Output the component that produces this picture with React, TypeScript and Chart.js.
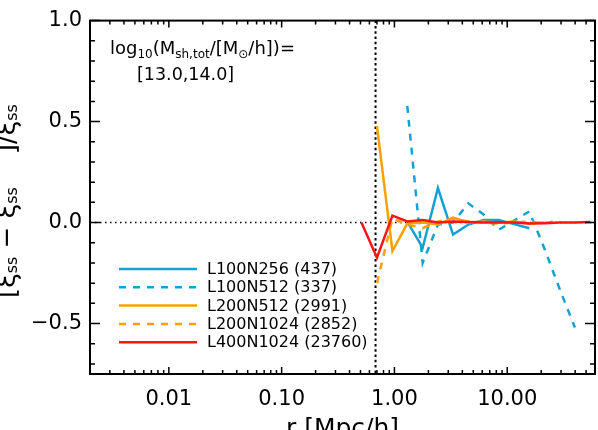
import React, { useEffect, useRef } from "react";
import { Chart, registerables } from "chart.js";

Chart.register(...registerables);

// ---- data ----
const R_BINS = [0.51, 0.70, 0.96, 1.30, 1.78, 2.43, 3.31, 4.52, 6.17, 8.41, 11.5, 15.7, 21.4, 29.2, 39.8, 54.3];
const L100N256 = [null, null, null, 0.005, -0.125, 0.171, -0.060, -0.010, 0.012, 0.012, -0.008, -0.028, null, null, null, null];
const L100N512 = [null, null, null, 0.578, -0.200, -0.010, 0.000, 0.095, 0.040, -0.036, 0.010, 0.055, -0.130, -0.330, -0.520, null];
const L200N512 = [null, 0.477, -0.141, -0.005, 0.000, -0.010, 0.025, 0.000, 0.005, 0.000, 0.005, -0.005, 0.000, null, null, null];
const L200N1024 = [null, -0.300, 0.020, -0.010, -0.028, 0.005, 0.020, 0.005, 0.000, -0.005, 0.000, 0.005, -0.005, 0.015, null, null];
const L400N1024 = [0.000, -0.174, 0.034, 0.005, 0.013, 0.000, 0.005, 0.003, 0.000, 0.002, 0.000, -0.005, -0.003, 0.000, 0.000, 0.003];

const SERIES_NAMES = ["L100N256", "L100N512", "L200N512", "L200N1024", "L400N1024"];
const SERIES_COUNTS = [437, 337, 2991, 2852, 23760];
const SERIES_VALUES = [L100N256, L100N512, L200N512, L200N1024, L400N1024];
const SERIES_COLORS = ["#14a2d4", "#14a2d4", "#ffa000", "#ffa000", "#ff1414"];
const SERIES_DASHED = [false, true, false, true, false];
const SERIES_ORDER = [4, 3, 2, 1, 0];

const X_MIN = 0.002;
const X_MAX = 60;
const Y_MIN = -0.75;
const Y_MAX = 1.0;
const X_MAJOR = [0.01, 0.1, 1, 10];
const Y_MAJOR = [-0.5, 0.0, 0.5, 1.0];
const R_LIMIT = 0.68;

const FONT = "'DejaVu Sans', sans-serif";

type Run = { t: string; size: number; dy?: number };

function drawRuns(ctx: CanvasRenderingContext2D, x: number, y: number, runs: Run[]) {
  let cx = x;
  for (const r of runs) {
    ctx.font = `${r.size}px ${FONT}`;
    ctx.fillText(r.t, cx, y + (r.dy || 0));
    cx += ctx.measureText(r.t).width;
  }
  return cx - x;
}

const overlay = {
  id: "overlay",
  beforeDatasetsDraw(chart: any) {
    const { ctx, chartArea: a, scales } = chart;
    const xs = scales.x, ys = scales.y;
    ctx.save();
    ctx.strokeStyle = "#000";
    ctx.lineWidth = 1.5;
    ctx.setLineDash([1.5, 3.5]);
    const y0 = ys.getPixelForValue(0);
    ctx.beginPath();
    ctx.moveTo(a.left, y0);
    ctx.lineTo(a.right, y0);
    ctx.stroke();
    ctx.lineWidth = 2;
    ctx.setLineDash([2.5, 2.8]);
    const xl = xs.getPixelForValue(R_LIMIT);
    ctx.beginPath();
    ctx.moveTo(xl, a.top);
    ctx.lineTo(xl, a.bottom);
    ctx.stroke();
    ctx.restore();
  },
  afterDraw(chart: any) {
    const { ctx, chartArea: a, scales } = chart;
    const xs = scales.x, ys = scales.y;
    ctx.save();
    ctx.strokeStyle = "#000";
    ctx.setLineDash([]);
    ctx.lineWidth = 1.5;
    ctx.beginPath();
    for (let d = -3; d <= 2; d++) {
      for (let m = 1; m <= 9; m++) {
        const v = m * Math.pow(10, d);
        if (v < X_MIN || v > X_MAX) continue;
        const px = xs.getPixelForValue(v);
        const len = m === 1 ? 7 : 4;
        ctx.moveTo(px, a.bottom);
        ctx.lineTo(px, a.bottom - len);
        ctx.moveTo(px, a.top);
        ctx.lineTo(px, a.top + len);
      }
    }
    for (let k = -7; k <= 10; k++) {
      const v = k / 10;
      const py = ys.getPixelForValue(v);
      const len = k % 5 === 0 ? 10 : 5;
      ctx.moveTo(a.left, py);
      ctx.lineTo(a.left + len, py);
      ctx.moveTo(a.right, py);
      ctx.lineTo(a.right - len, py);
    }
    ctx.stroke();
    ctx.lineWidth = 2;
    ctx.strokeRect(a.left, a.top, a.right - a.left, a.bottom - a.top);

    // legend
    ctx.fillStyle = "#000";
    ctx.textBaseline = "middle";
    chart.data.datasets.forEach((ds: any, i: number) => {
      if (i >= SERIES_NAMES.length) return;
      const yy = 269 + i * 18.3;
      ctx.strokeStyle = ds.borderColor;
      ctx.lineWidth = 2.5;
      ctx.setLineDash(ds.borderDash || []);
      ctx.beginPath();
      ctx.moveTo(119, yy);
      ctx.lineTo(197, yy);
      ctx.stroke();
      ctx.font = `16px ${FONT}`;
      ctx.fillText(ds.label, 207, yy + 1);
    });
    ctx.setLineDash([]);

    // annotation
    ctx.textBaseline = "alphabetic";
    ctx.fillStyle = "#000";
    const S = 18, s = 12, dy = 4;
    drawRuns(ctx, 110, 54, [
      { t: "log", size: S },
      { t: "10", size: s, dy },
      { t: "(M", size: S },
      { t: "sh,tot", size: s, dy },
      { t: "/[M", size: S },
      { t: "\u2299", size: s, dy },
      { t: "/h])=", size: S },
    ]);
    drawRuns(ctx, 137, 80, [{ t: "[13.0,14.0]", size: 17.5 }]);

    // x title
    ctx.font = `25px ${FONT}`;
    const xt = "r [Mpc/h]";
    const w = ctx.measureText(xt).width;
    ctx.fillText(xt, (a.left + a.right) / 2 - w / 2, 436);

    // y title (rotated)
    ctx.save();
    ctx.translate(15, 298);
    ctx.rotate(-Math.PI / 2);
    drawRuns(ctx, 0, 0, [
      { t: "[\u03be", size: 26 },
      { t: "ss", size: 16, dy: 2 },
      { t: " \u2212 \u03be", size: 26 },
      { t: "ss", size: 16, dy: 2 },
      { t: "    ]/\u03be", size: 26 },
      { t: "ss", size: 16, dy: 2 },
    ]);
    ctx.restore();
    ctx.restore();
  },
};

export default function App() {
  const ref = useRef<HTMLCanvasElement | null>(null);
  useEffect(() => {
    if (!ref.current) return;
    const datasets: any[] = SERIES_VALUES.map((vals, i) => ({
      label: `${SERIES_NAMES[i]} (${SERIES_COUNTS[i]})`,
      data: R_BINS.map((r, j) => ({ x: r, y: vals[j] })).filter((p) => p.y !== null),
      borderColor: SERIES_COLORS[i],
      backgroundColor: SERIES_COLORS[i],
      borderWidth: 2.5,
      borderDash: SERIES_DASHED[i] ? [7, 7] : [],
      pointRadius: 0,
      tension: 0,
      fill: false,
      order: SERIES_ORDER[i],
    }));
    const chart = new Chart(ref.current, {
      type: "line",
      data: { datasets },
      options: {
        animation: false,
        responsive: false,
        devicePixelRatio: 1,
        layout: { padding: { left: 0, right: 3, top: 17, bottom: 0 } },
        plugins: { legend: { display: false }, tooltip: { enabled: false } },
        scales: {
          x: {
            type: "logarithmic",
            min: X_MIN,
            max: X_MAX,
            grid: { display: false, drawTicks: false },
            border: { display: false },
            afterBuildTicks: (sc: any) => {
              sc.ticks = X_MAJOR.map((v) => ({ value: v }));
            },
            afterFit: (sc: any) => {
              sc.height = 56;
            },
            ticks: {
              color: "#000",
              font: { family: FONT, size: 21 },
              padding: 13,
              maxRotation: 0,
              autoSkip: false,
              callback: (v: any) => Number(v).toFixed(2),
            },
          },
          y: {
            type: "linear",
            min: Y_MIN,
            max: Y_MAX,
            grid: { display: false, drawTicks: false },
            border: { display: false },
            afterBuildTicks: (sc: any) => {
              sc.ticks = Y_MAJOR.map((v) => ({ value: v }));
            },
            afterFit: (sc: any) => {
              sc.width = 90;
            },
            ticks: {
              color: "#000",
              font: { family: FONT, size: 21 },
              padding: 8,
              autoSkip: false,
              callback: (v: any) => Number(v).toFixed(1).replace("-", "\u2212"),
            },
          },
        },
      } as any,
      plugins: [overlay],
    });
    return () => chart.destroy();
  }, []);
  return (
    <div style={{ position: "fixed", left: 0, top: 0, width: 598, height: 430, background: "#fff" }}>
      <canvas ref={ref} width={598} height={430} style={{ width: 598, height: 430 }} />
    </div>
  );
}
